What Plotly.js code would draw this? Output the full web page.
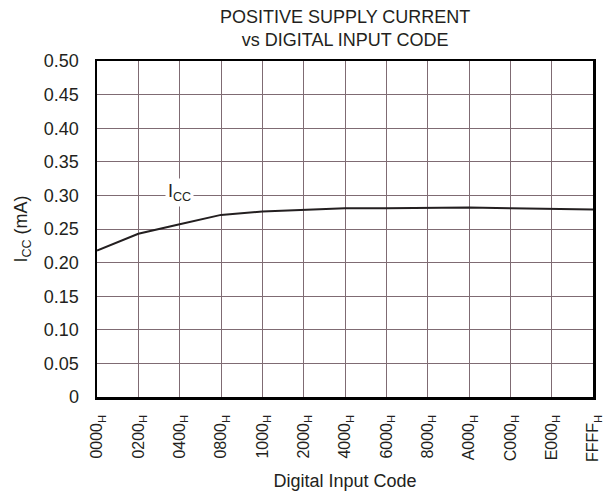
<!DOCTYPE html>
<html>
<head>
<meta charset="utf-8">
<script src="https://cdn.plot.ly/plotly-3.0.1.min.js"></script>
<style>html,body{margin:0;padding:0;background:#fff;}#chart{width:603px;height:502px;}</style>
</head>
<body>
<div id="chart"></div>
<script>
// Data
var codes = ['0000','0200','0400','0800','1000','2000','4000','6000','8000','A000','C000','E000','FFFF'];
var icc = [0.218, 0.243, 0.257, 0.271, 0.276, 0.279, 0.281, 0.281, 0.282, 0.282, 0.281, 0.280, 0.279];
var yTickVals = [0, 0.05, 0.10, 0.15, 0.20, 0.25, 0.30, 0.35, 0.40, 0.45, 0.50];
var yTickText = ['0', '0.05', '0.10', '0.15', '0.20', '0.25', '0.30', '0.35', '0.40', '0.45', '0.50'];
var labelCode = '0400';
var labelValue = 0.305;

var FONT = 'Liberation Sans, Arial, sans-serif';
var xTickText = codes.map(function(c){ return c + '<sub>H</sub>'; });

var trace = {
  x: codes,
  y: icc,
  type: 'scatter',
  mode: 'lines',
  line: {color: '#231f20', width: 2},
  hoverinfo: 'none',
  showlegend: false
};

var layout = {
  width: 603,
  height: 502,
  margin: {l: 97, r: 10, t: 61, b: 105, pad: 0},
  paper_bgcolor: '#ffffff',
  plot_bgcolor: '#ffffff',
  font: {family: FONT, size: 18, color: '#231f20'},
  title: {
    text: 'POSITIVE SUPPLY CURRENT<br>vs DIGITAL INPUT CODE',
    font: {family: FONT, size: 18, color: '#231f20'},
    x: 0.5724, xref: 'container', xanchor: 'center',
    y: 0.955, yref: 'container', yanchor: 'top'
  },
  xaxis: {
    type: 'category',
    range: [0, 12],
    tickmode: 'array',
    tickvals: codes,
    ticktext: xTickText,
    tickangle: -90,
    tickfont: {family: FONT, size: 16, color: '#231f20'},
    ticks: '',
    ticklabelstandoff: 9,
    showgrid: true,
    gridcolor: '#7f6b73',
    gridwidth: 1,
    showline: true,
    linecolor: '#000000',
    linewidth: 2.5,
    mirror: true,
    zeroline: false,
    fixedrange: true,
    title: {text: 'Digital Input Code', font: {family: FONT, size: 18, color: '#231f20'}, standoff: 14}
  },
  yaxis: {
    range: [0, 0.5],
    tickmode: 'array',
    tickvals: yTickVals,
    ticktext: yTickText,
    tickfont: {family: FONT, size: 18, color: '#231f20'},
    ticks: '',
    ticklabelstandoff: 12,
    showgrid: true,
    gridcolor: '#7f6b73',
    gridwidth: 1,
    showline: true,
    linecolor: '#000000',
    linewidth: 2.5,
    mirror: true,
    zeroline: false,
    fixedrange: true,
    title: {text: 'I<sub>CC</sub> (mA)', font: {family: FONT, size: 18, color: '#231f20'}, standoff: 12}
  },
  annotations: [{
    x: codes.indexOf(labelCode), y: labelValue, xref: 'x', yref: 'y',
    text: 'I<sub>CC</sub>',
    showarrow: false,
    bgcolor: '#ffffff',
    font: {family: FONT, size: 18, color: '#231f20'},
    xanchor: 'center', yanchor: 'middle',
    borderpad: 2
  }]
};

Plotly.newPlot('chart', [trace], layout, {displayModeBar: false, staticPlot: true});
</script>
</body>
</html>
